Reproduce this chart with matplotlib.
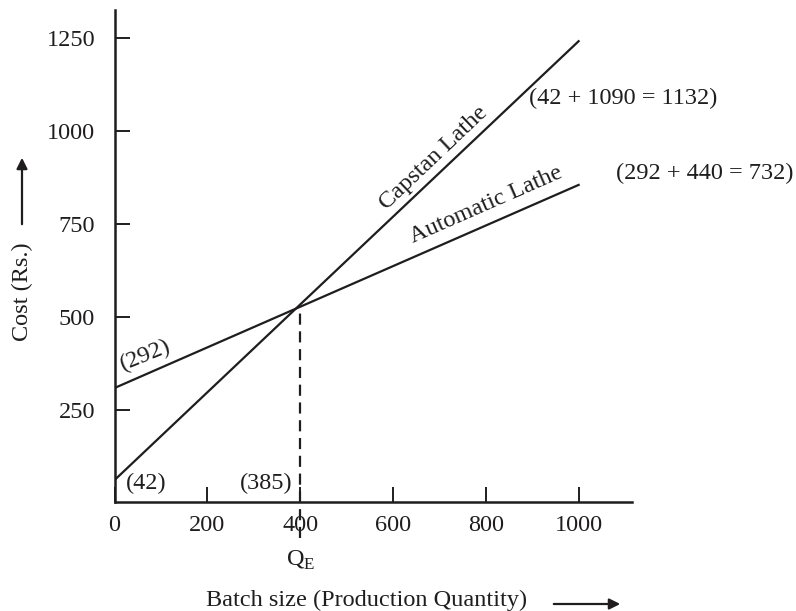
import matplotlib.pyplot as plt

plt.rcParams['font.family'] = ['Liberation Serif', 'DejaVu Serif']
plt.rcParams['mathtext.fontset'] = 'custom'
plt.rcParams['mathtext.rm'] = 'Liberation Serif'

batch = [0, 1000]
capstan_cost = [60, 1242]
automatic_cost = [308, 855]
q_e = 400
cost_e = 529

x_ticks = [0, 200, 400, 600, 800, 1000]
y_ticks = [250, 500, 750, 1000, 1250]

W, H = 796, 611
fig = plt.figure(figsize=(W / 100, H / 100), dpi=100)
ax = fig.add_axes([114.5 / W, (H - 502.4) / H, (632 - 114.5) / W, (502.4 - 10) / H])

ink = '#1f1d1e'
ax.plot(batch, capstan_cost, color=ink, lw=1.6)
ax.plot(batch, automatic_cost, color=ink, lw=1.6)
ax.plot([q_e, q_e], [-96, cost_e], color=ink, lw=1.6,
        linestyle=(0, (5, 3)), clip_on=False, zorder=5)

fs = 17.5
ax.set_xlim(0, 1115)
ax.set_ylim(0, 1326)
ax.set_xticks(x_ticks)
ax.set_yticks(y_ticks)
ax.tick_params(direction='in', length=11, width=1.4, labelsize=fs, color=ink, labelcolor=ink)
ax.tick_params(axis='x', pad=9)
ax.tick_params(axis='y', pad=14)
for s in ['top', 'right']:
    ax.spines[s].set_visible(False)
for s in ['left', 'bottom']:
    ax.spines[s].set_linewidth(1.8)
    ax.spines[s].set_color(ink)

ax.text(66, 397, '(292)', fontsize=fs, rotation=22, ha='center', va='center', color=ink)
ax.text(68, 50, '(42)', fontsize=fs, ha='center', va='center', color=ink)
ax.text(326, 50, '(385)', fontsize=fs, ha='center', va='center', color=ink)
ax.text(688, 928, 'Capstan Lathe', fontsize=fs, rotation=43.5, ha='center', va='center', color=ink)
ax.text(800, 802, 'Automatic Lathe', fontsize=fs, rotation=23.7, ha='center', va='center', color=ink)
ax.text(1097, 1087, '(42 + 1090 = 1132)', fontsize=fs, ha='center', va='center', color=ink)
ax.text(1271, 885, '(292 + 440 = 732)', fontsize=fs, ha='center', va='center', color=ink)
ax.text(q_e, -155, r'$\mathrm{Q}_{\mathrm{E}}$', fontsize=fs, ha='center', va='center', color=ink)

fig.text(22 / W, (H - 292) / H, 'Cost (Rs.)', fontsize=fs, rotation=90,
         ha='center', va='center', color=ink)
fig.text(367 / W, (H - 600) / H, 'Batch size (Production Quantity)', fontsize=fs,
         ha='center', va='center', color=ink)

ax.annotate('', xy=(22, H - 155), xytext=(22, H - 227), xycoords='figure pixels',
            arrowprops=dict(arrowstyle='-|>', color=ink, lw=1.6, mutation_scale=16))
ax.annotate('', xy=(623, H - 604), xytext=(551, H - 604), xycoords='figure pixels',
            arrowprops=dict(arrowstyle='-|>', color=ink, lw=1.6, mutation_scale=16))

fig.savefig('out.png', dpi=100)
